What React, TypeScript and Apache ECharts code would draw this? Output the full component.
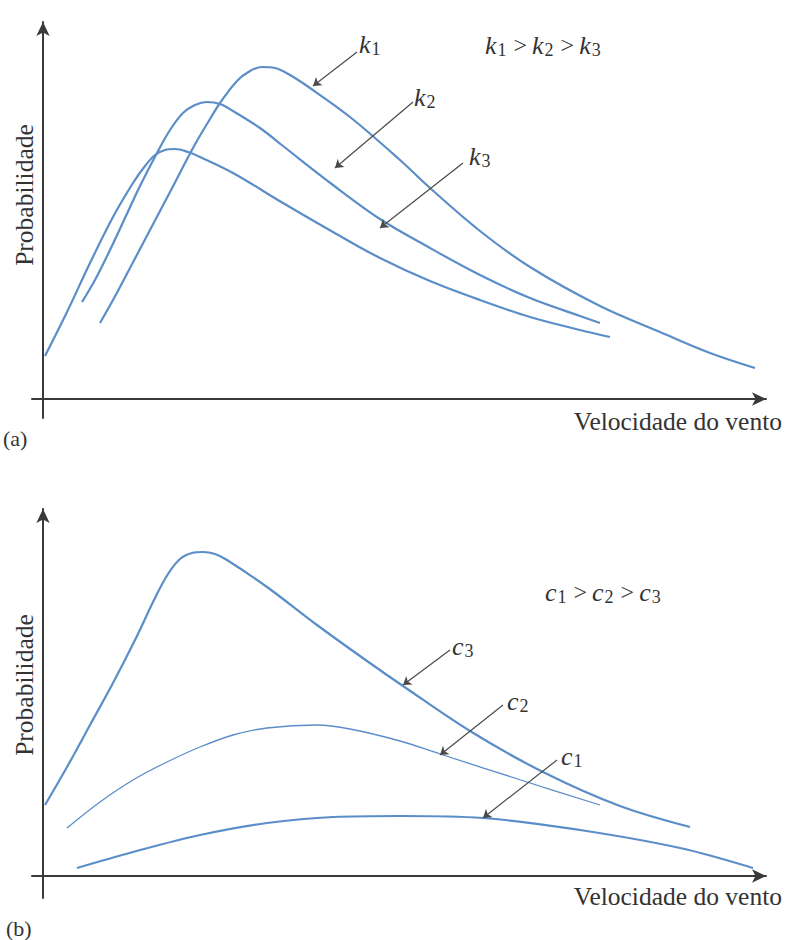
import React, { useEffect, useRef } from "react";
import * as echarts from "echarts";

// ---------- Panel (a): curves for shape parameter k ----------
// [wind speed, probability] in arbitrary schematic units
const k1Curve: [number, number][] = [
  [57, 76], [70, 99], [87, 131], [107, 169], [127, 207], [150, 251], [164, 275], [177, 296],
  [194, 318], [207, 328], [219, 332], [232, 331], [247, 324], [267, 311], [307, 282], [357, 239],
  [387, 211], [437, 168], [487, 132], [557, 93], [617, 67], [667, 46], [712, 31],
];
const k2Curve: [number, number][] = [
  [39, 97], [52, 119], [67, 149], [82, 181], [97, 213], [114, 246], [127, 269], [140, 286],
  [152, 294], [164, 297], [177, 295], [190, 288], [217, 271], [240, 253], [290, 214], [337, 180],
  [387, 151], [437, 124], [487, 101], [537, 83], [557, 76],
];
const k3Curve: [number, number][] = [
  [2, 43], [24, 87], [47, 136], [70, 182], [90, 216], [102, 233], [112, 244], [122, 249],
  [132, 250], [145, 247], [157, 242], [190, 226], [240, 196], [290, 167], [337, 141], [387, 118],
  [437, 99], [487, 82], [537, 69], [567, 62],
];

// ---------- Panel (b): curves for scale parameter c ----------
const c3Curve: [number, number][] = [
  [2, 71], [24, 109], [47, 151], [70, 193], [92, 236], [112, 278], [125, 302], [137, 317],
  [149, 323], [160, 324], [172, 322], [184, 316], [224, 289], [274, 251], [324, 215], [360, 190],
  [427, 145], [500, 104], [577, 70], [647, 49],
];
const c2Curve: [number, number][] = [
  [24, 48], [57, 74], [90, 96], [124, 114], [157, 129], [190, 141], [224, 148], [274, 151],
  [307, 147], [357, 135], [397, 122], [484, 94], [557, 71],
];
const c1Curve: [number, number][] = [
  [34, 8], [90, 24], [157, 41], [224, 53], [290, 59], [357, 60], [440, 58], [537, 46],
  [637, 28], [710, 8],
];

// Annotation arrows: [start, tip] in data units
const kArrows: [number, number][][] = [
  [[314, 347], [270, 313]],
  [[370, 297], [292, 231]],
  [[420, 236], [337, 171]],
];
const cArrows: [number, number][][] = [
  [[407, 226], [360, 191]],
  [[460, 171], [397, 121]],
  [[514, 116], [440, 58]],
];

// Axis extents
const xRange: [number, number] = [-11, 723];
const yRangeA: [number, number] = [-19, 377];
const yRangeB: [number, number] = [-22, 367];

const xTitle = "Velocidade do vento";
const yTitle = "Probabilidade";

const SERIF = "Liberation Serif";
const CURVE = "#5b8dc9";
const AXIS = "#3a3a3a";
const ARROW = "#4a4a4a";

const rich = {
  i: { fontFamily: SERIF, fontStyle: "italic", fontSize: 26, lineHeight: 28, verticalAlign: "middle", fill: "#333" },
  s: { fontFamily: SERIF, fontSize: 18, lineHeight: 18, verticalAlign: "bottom", fill: "#333", padding: [0, 2, 0, 1] },
  g: { fontFamily: SERIF, fontSize: 24, lineHeight: 28, verticalAlign: "middle", fill: "#333", padding: [0, 5, 0, 5] },
};

function subLabel(letter: string, idx: string) {
  return `{i|${letter}}{s|${idx}}`;
}

export default function App() {
  const ref = useRef<HTMLDivElement>(null);
  useEffect(() => {
    document.body.style.margin = "0";
    if (!ref.current) return;
    const chart = echarts.init(ref.current, undefined, { renderer: "svg" });

    const axisLine = {
      show: true,
      onZero: true,
      symbol: ["none", "arrow"],
      symbolSize: [10, 14],
      lineStyle: { color: AXIS, width: 2 },
    };
    const hidden = {
      axisTick: { show: false },
      axisLabel: { show: false },
      splitLine: { show: false },
    };

    const curveSeries = (data: [number, number][], idx: number, width = 2.2) => ({
      type: "line",
      xAxisIndex: idx,
      yAxisIndex: idx,
      data,
      smooth: 0.35,
      showSymbol: false,
      silent: true,
      lineStyle: { color: CURVE, width },
      itemStyle: { color: CURVE },
    });

    const arrowSeries = (arrows: [number, number][][], idx: number) => ({
      type: "line",
      xAxisIndex: idx,
      yAxisIndex: idx,
      data: [],
      silent: true,
      markLine: {
        silent: true,
        symbol: ["none", "arrow"],
        symbolSize: 8,
        label: { show: false },
        lineStyle: { color: ARROW, width: 1.2, type: "solid" },
        emphasis: { disabled: true },
        data: arrows.map(([a, b]) => [{ coord: a }, { coord: b }]),
      },
    });

    const textEl = (text: string, x: number, y: number, extra: any = {}) => ({
      type: "text",
      x,
      y,
      silent: true,
      style: {
        text,
        fontFamily: SERIF,
        fontSize: 24,
        fill: "#333",
        verticalAlign: "middle",
        rich,
        ...extra,
      },
    });

    chart.setOption({
      animation: false,
      backgroundColor: "#ffffff",
      grid: [
        { left: 32, right: 19, top: 22, bottom: 522 },
        { left: 32, right: 19, top: 509, bottom: 42 },
      ],
      xAxis: [0, 1].map((g) => ({
        type: "value",
        gridIndex: g,
        min: xRange[0],
        max: xRange[1],
        axisLine,
        ...hidden,
      })),
      yAxis: [
        { type: "value", gridIndex: 0, min: yRangeA[0], max: yRangeA[1], axisLine, ...hidden },
        { type: "value", gridIndex: 1, min: yRangeB[0], max: yRangeB[1], axisLine, ...hidden },
      ],
      series: [
        curveSeries(k1Curve, 0),
        curveSeries(k2Curve, 0),
        curveSeries(k3Curve, 0),
        arrowSeries(kArrows, 0),
        curveSeries(c3Curve, 1),
        curveSeries(c2Curve, 1, 1.3),
        curveSeries(c1Curve, 1),
        arrowSeries(cArrows, 1),
      ],
      graphic: [
        textEl(subLabel("k", "1"), 359, 44),
        textEl(subLabel("k", "2"), 414, 97),
        textEl(subLabel("k", "3"), 469, 156),
        textEl(
          `${subLabel("k", "1")}{g|>}${subLabel("k", "2")}{g|>}${subLabel("k", "3")}`,
          485,
          45
        ),
        textEl(subLabel("c", "3"), 452, 646),
        textEl(subLabel("c", "2"), 507, 701),
        textEl(subLabel("c", "1"), 561, 756),
        textEl(
          `${subLabel("c", "1")}{g|>}${subLabel("c", "2")}{g|>}${subLabel("c", "3")}`,
          545,
          592
        ),
        textEl(xTitle, 782, 421, { align: "right", fontSize: 25.5 }),
        textEl(xTitle, 782, 896, { align: "right", fontSize: 25.5 }),
        {
          type: "text",
          x: 24,
          y: 195,
          rotation: Math.PI / 2,
          silent: true,
          style: { text: yTitle, fontFamily: SERIF, fontSize: 25.5, fill: "#333", align: "center", verticalAlign: "middle" },
        },
        {
          type: "text",
          x: 24,
          y: 685,
          rotation: Math.PI / 2,
          silent: true,
          style: { text: yTitle, fontFamily: SERIF, fontSize: 25.5, fill: "#333", align: "center", verticalAlign: "middle" },
        },
        textEl("(a)", 3, 438, { fontSize: 22 }),
        textEl("(b)", 6, 928, { fontSize: 22 }),
      ],
    });
    return () => chart.dispose();
  }, []);
  return (
    <div
      ref={ref}
      style={{ position: "absolute", left: 0, top: 0, width: 785, height: 940, background: "#fff" }}
    />
  );
}
